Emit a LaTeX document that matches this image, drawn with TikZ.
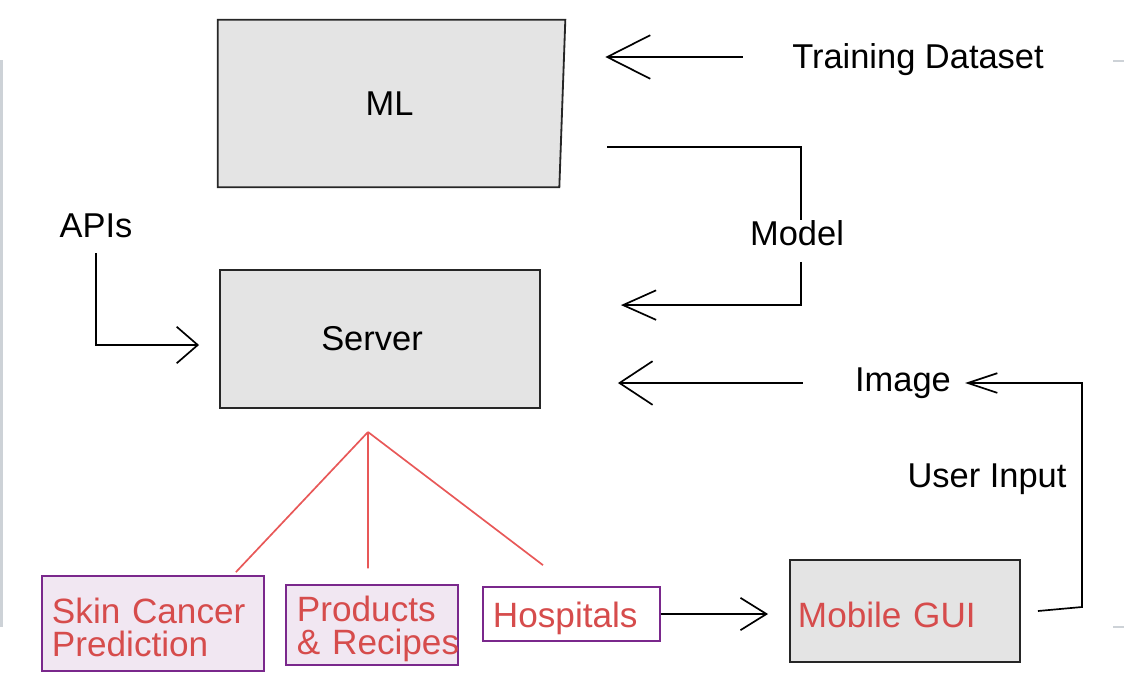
\documentclass[tikz,border=0pt]{standalone}
\usepackage{fontspec}
\setmainfont{Liberation Sans}
\usetikzlibrary{arrows.meta,backgrounds}
\definecolor{boxgray}{RGB}{228,228,228}
\definecolor{boxpurple}{RGB}{122,40,140}
\definecolor{boxlilac}{RGB}{241,231,242}
\definecolor{txtred}{RGB}{214,76,76}
\definecolor{linered}{RGB}{232,88,88}
\definecolor{artgray}{RGB}{205,210,215}
\newcommand{\lblfont}{\fontsize{24.5}{28}\selectfont}
\newcommand{\redfont}{\fontsize{25}{23.5}\selectfont}
\tikzset{
	lbl/.style={inner sep=0pt, font=\lblfont},
	graybox/.style={draw=black!85, line width=1.3pt, fill=boxgray},
	redtext/.style={text=txtred, font=\redfont, align=left,
		execute at begin node={\rule{0pt}{24pt}}},
	redbox/.style={draw=boxpurple, line width=1.2pt, fill=boxlilac, redtext, inner ysep=2pt},
	con/.style={line width=1.2pt},
	chev/.style 2 args={con, -{Straight Barb[length=#1, width=#2]}},
	redline/.style={linered, line width=1.2pt},
}
\begin{document}
\begin{tikzpicture}[x=0.025cm, y=-0.025cm]
		\useasboundingbox (0,0) rectangle (1124,698);
		% Rand
		\fill[artgray] (0,60) rectangle (2.5,627);
		\draw[artgray, line width=1.5pt] (1113,61) -- (1124,61);
		\draw[artgray, line width=1.5pt] (1113,627) -- (1124,627);
		% Bloecke
		\node[lbl, minimum width=8.675cm, minimum height=4.175cm] (ml) at (391.5,103.5) {\kern-0.1cm ML};
		\begin{scope}[on background layer]
			\draw[graybox] (ml.north west) -- (ml.north east)
				-- ([xshift=-0.15cm]ml.south east) -- (ml.south west) -- cycle;
		\end{scope}
		\node[graybox, lbl, minimum width=8cm, minimum height=3.45cm] (server) at (380,339) {\kern-0.4cm Server};
		\node[graybox, redtext, text width=5.35cm, inner xsep=0.2cm, inner ysep=0pt,
			minimum height=2.55cm] (gui) at (905,611) {Mobile GUI};
		\node[redbox, text width=5.05cm, inner xsep=0.25cm, minimum height=2.375cm]
			(skin) at (153,623.5) {Skin Cancer\\Prediction};
		\node[redbox, text width=3.75cm, inner xsep=0.275cm, minimum height=1.9cm]
			(prod) at (372,625) {Products\\\&~Recipes};
		\node[redbox, fill=white, text width=3.925cm, inner xsep=0.25cm, minimum height=1.35cm]
			(hosp) at (571.5,614) {Hospitals};
		% Beschriftungen
		\node[lbl] (data) at (918,60) {Training Dataset};
		\node[lbl] (apis) at (96,226) {APIs};
		\node[lbl] (model) at (797,233) {Model};
		\node[lbl] (image) at (903,383) {Image};
		\node[lbl] (input) at (987,479) {User Input};
		\coordinate (split) at (368,432);
		% Training
		\draw[chev={30.6pt}{31pt}] ([xshift=-1.225cm,yshift=0.075cm]data.west)
			-- ([xshift=1cm,yshift=0.075cm]data.west -| ml.east);
		% Modell
		\draw[con] ([xshift=1.05cm,yshift=1cm]ml.south east) -| ([xshift=0.1cm]model.north);
		\draw[chev={23.5pt}{21pt}] ([xshift=0.1cm,yshift=-0.4cm]model.south)
			|- ([xshift=2cm,yshift=-0.9cm]server.north east);
		% Bild
		\draw[chev={23.5pt}{31pt}] ([xshift=-1.3cm]image.west) -- ([xshift=1.925cm]image.west -| server.east);
		\draw[chev={21pt}{14pt}] ([xshift=0.425cm]gui.east) -- ++(44,-4) |- ([xshift=0.35cm]image.east);
		% APIs
		\draw[chev={15pt}{26pt}] ([yshift=-0.375cm]apis.south) |- ([xshift=-0.5cm,yshift=-0.15cm]server.west);
		% Verteilung
		\draw[redline] (split) -- ([xshift=-0.725cm,yshift=0.075cm]skin.north east);
		\draw[redline] (split) -- ([xshift=-0.1cm,yshift=0.4cm]prod.north);
		\draw[redline] (split) -- ([xshift=-0.7125cm,yshift=0.525cm]hosp.north);
		% Kliniken
		\draw[chev={18.5pt}{23pt}] (hosp.east) -- ([xshift=-0.525cm]hosp.east -| gui.west);
	\end{tikzpicture}
\end{document}
